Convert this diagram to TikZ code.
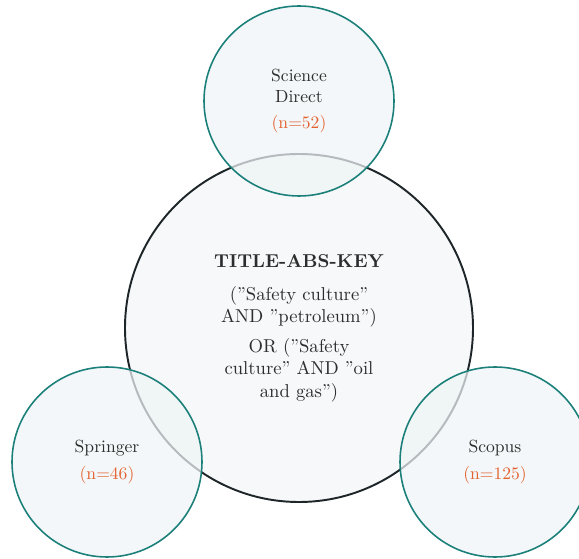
\documentclass[tikz,border=0pt]{standalone}
\usepackage{xcolor}
\definecolor{ringteal}{RGB}{28,128,122}
\definecolor{ringfill}{RGB}{238,244,246}
\definecolor{corefill}{RGB}{247,248,249}
\definecolor{coreline}{RGB}{30,38,42}
\definecolor{countorange}{RGB}{228,98,48}
\definecolor{txt}{RGB}{45,45,45}
\tikzset{
  core/.style={circle, draw=coreline, line width=1.1pt, fill=corefill,
    minimum size=6.96cm, align=center, text=txt,
    font=\fontsize{10.6}{12.8}\selectfont},
  source/.style={circle, draw=ringteal, line width=0.9pt, fill=ringfill,
    fill opacity=0.72, text opacity=1, minimum size=3.8cm, align=center, text=txt}
}
\newcommand{\cnt}[1]{\textcolor{countorange}{#1}}
\begin{document}
\begin{tikzpicture}
    \useasboundingbox (-5.98,-4.62) rectangle (5.6,6.56);
    % search string in the middle
    \node[core] (query) at (0,0) {\textbf{TITLE-ABS-KEY}\\[6pt]
        (''Safety culture''\\AND ''petroleum'')\\[4pt]
        OR (''Safety\\culture'' AND ''oil\\and gas'')};
    % databases
    \node[source] (sd) at (0,4.54) {Science\\Direct\\[3pt]\cnt{(n=52)}};
    \node[source] (springer) at (-3.84,-2.68) {Springer\\[3pt]\cnt{(n=46)}};
    \node[source] (scopus) at (3.92,-2.68) {Scopus\\[3pt]\cnt{(n=125)}};
\end{tikzpicture}
\end{document}
